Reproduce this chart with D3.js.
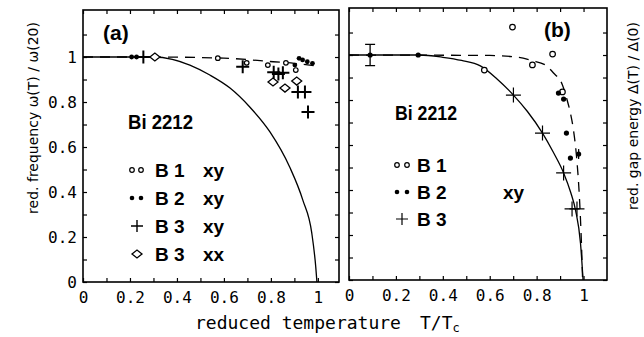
<!DOCTYPE html>
<html>
<head>
<meta charset="utf-8">
<script src="https://cdn.jsdelivr.net/npm/d3@7"></script>
<style>
	body { margin: 0; background: #fff; }
	svg { display: block; }
	.tick text { font-family: "DejaVu Sans Mono", monospace; font-size: 16px; fill: #000; }
	.tick line { stroke: #000; stroke-width: 1.2; }
	.lbl { font-family: "Liberation Sans", Arial, sans-serif; font-weight: bold; fill: #000; }
	.axlbl { font-family: "DejaVu Sans Mono", monospace; fill: #000; }
	.ylbl { font-family: "DejaVu Sans", sans-serif; fill: #000; }
</style>
</head>
<body>
<svg id="chart" width="644" height="337"></svg>
<script>
'use strict';

// ---- data: [T/Tc, value] ----
// panel (a): reduced frequency
var aSolid = [[0, 1], [0.3, 1], [0.38, 0.99], [0.455, 0.964], [0.54, 0.92], [0.626, 0.862], [0.71, 0.778],
	[0.796, 0.667], [0.88, 0.511], [0.936, 0.364], [0.974, 0.218], [0.991, 0.067], [0.996, 0]];
var aDashed = [[0, 1], [0.3, 1], [0.6, 0.995], [0.81, 0.979], [0.9, 0.972], [0.987, 0.961]];
var aB1xy = [[0.574, 0.995], [0.697, 0.974], [0.787, 0.964], [0.864, 0.974], [0.906, 0.942]];
var aB2xy = [[0.207, 1], [0.228, 1], [0.902, 0.964], [0.92, 0.994], [0.935, 0.987], [0.955, 0.979], [0.977, 0.972]];
var aB3xy = [[0.257, 1], [0.68, 0.957], [0.812, 0.932], [0.832, 0.925], [0.851, 0.93], [0.915, 0.845], [0.945, 0.845], [0.958, 0.756]];
var aB3xx = [[0.306, 1], [0.809, 0.889], [0.86, 0.862], [0.91, 0.893]];

// panel (b): reduced gap energy
var bSolid = [[0, 1], [0.3, 1], [0.4, 0.99], [0.48, 0.976], [0.56, 0.952], [0.63, 0.895], [0.701, 0.822], [0.76, 0.75],
	[0.825, 0.653], [0.87, 0.57], [0.915, 0.476], [0.945, 0.39], [0.966, 0.31], [0.987, 0.164], [0.998, 0]];
var bDashed = [[0, 1], [0.6, 0.998], [0.72, 0.99], [0.78, 0.975], [0.838, 0.955], [0.872, 0.92], [0.91, 0.867],
	[0.93, 0.8], [0.944, 0.742], [0.957, 0.667], [0.97, 0.55], [0.983, 0.356], [0.991, 0.164], [0.996, 0]];
var bB1 = [[0.577, 0.933], [0.697, 1.124], [0.782, 0.956], [0.868, 1.004], [0.91, 0.836]];
var bB2 = [[0.09, 1], [0.295, 1], [0.893, 0.831], [0.915, 0.804], [0.927, 0.653], [0.944, 0.542], [0.979, 0.56]];
var bB2err = [[0.09, 1, 0.047], [0.979, 0.56, 0.022]];
var bB3 = [[0.701, 0.822], [0.825, 0.653], [0.915, 0.476], [0.951, 0.316], [0.972, 0.316]];

var xTicks = [0, 0.1, 0.2, 0.3, 0.4, 0.5, 0.6, 0.7, 0.8, 0.9, 1];
var yTicks = [0, 0.1, 0.2, 0.3, 0.4, 0.5, 0.6, 0.7, 0.8, 0.9, 1, 1.1];
var xTickLabels = ['0', '', '0.2', '', '0.4', '', '0.6', '', '0.8', '', '1'];
var yTickLabels = ['0', '', '0.2', '', '0.4', '', '0.6', '', '0.8', '', '1', ''];

var svg = d3.select('#chart');

function tickFormat(labels) {
	return function(d, i) { return labels[i]; };
}

function makePanel(left, right, top, bottom, xMax, yMax, showYLabels) {
	var x = d3.scaleLinear().domain([0, xMax]).range([left, right]);
	var y = d3.scaleLinear().domain([0, yMax]).range([bottom, top]);
	var g = svg.append('g');

	// axes, ticks pointing inward
	g.append('g')
		.attr('transform', 'translate(0,' + bottom + ')')
		.call(d3.axisBottom(x).tickValues(xTicks).tickSize(-4).tickPadding(10).tickFormat(tickFormat(xTickLabels)));
	g.append('g')
		.attr('transform', 'translate(0,' + top + ')')
		.call(d3.axisTop(x).tickValues(xTicks).tickSize(-4).tickFormat(''));
	g.append('g')
		.attr('transform', 'translate(' + left + ',0)')
		.call(d3.axisLeft(y).tickValues(yTicks).tickSize(-4).tickPadding(6)
			.tickFormat(showYLabels ? tickFormat(yTickLabels) : ''));
	g.append('g')
		.attr('transform', 'translate(' + right + ',0)')
		.call(d3.axisRight(y).tickValues(yTicks).tickSize(-4).tickFormat(''));
	g.selectAll('.domain').remove();

	g.append('rect')
		.attr('x', left).attr('y', top)
		.attr('width', right - left).attr('height', bottom - top)
		.attr('fill', 'none').attr('stroke', '#000').attr('stroke-width', 1.6);

	return { g: g, x: x, y: y };
}

function drawCurve(p, data, dashed) {
	var line = d3.line()
		.x(function(d) { return p.x(d[0]); })
		.y(function(d) { return p.y(d[1]); })
		.curve(d3.curveMonotoneX);
	p.g.append('path')
		.datum(data)
		.attr('d', line)
		.attr('fill', 'none')
		.attr('stroke', '#000')
		.attr('stroke-width', 1.3)
		.attr('stroke-dasharray', dashed ? '10 7' : null);
}

function marker(g, type, cx, cy, s) {
	if (type === 'circle') {
		g.append('circle').attr('cx', cx).attr('cy', cy).attr('r', s.r)
			.attr('fill', '#fff').attr('stroke', '#000').attr('stroke-width', 1.2);
	}
	else if (type === 'dot') {
		g.append('circle').attr('cx', cx).attr('cy', cy).attr('r', s.r).attr('fill', '#000');
	}
	else if (type === 'plus') {
		g.append('path')
			.attr('d', 'M' + (cx - s.r) + ',' + cy + 'H' + (cx + s.r) + 'M' + cx + ',' + (cy - s.r) + 'V' + (cy + s.r))
			.attr('stroke', '#000').attr('stroke-width', s.w).attr('fill', 'none');
	}
	else if (type === 'diamond') {
		g.append('path')
			.attr('d', 'M' + (cx - s.r) + ',' + cy + 'L' + cx + ',' + (cy - s.r * 0.8) + 'L' + (cx + s.r) + ',' + cy + 'L' + cx + ',' + (cy + s.r * 0.8) + 'Z')
			.attr('stroke', '#000').attr('stroke-width', 1.3).attr('fill', '#fff');
	}
}

function drawPoints(p, data, type, s) {
	data.forEach(function(d) { marker(p.g, type, p.x(d[0]), p.y(d[1]), s); });
}

// ---- panel (a) ----
var pa = makePanel(83, 339, 10, 282, 1.09, 1.209, true);
drawCurve(pa, aSolid, false);
drawCurve(pa, aDashed, true);
drawPoints(pa, aB3xx, 'diamond', { r: 5 });
drawPoints(pa, aB1xy, 'circle', { r: 2.3 });
drawPoints(pa, aB2xy, 'dot', { r: 2.4 });
drawPoints(pa, aB3xy, 'plus', { r: 6.5, w: 2 });

// ---- panel (b) ----
var pb = makePanel(349, 607, 8, 280, 1.1, 1.209, false);
drawCurve(pb, bSolid, false);
drawCurve(pb, bDashed, true);
bB2err.forEach(function(d, i) {
	var x = pb.x(d[0]), y0 = pb.y(d[1] - d[2]), y1 = pb.y(d[1] + d[2]);
	var path = 'M' + x + ',' + y0 + 'V' + y1;
	if (i === 0) {
		path += 'M' + (x - 5) + ',' + y0 + 'H' + (x + 5) + 'M' + (x - 5) + ',' + y1 + 'H' + (x + 5);
	}
	pb.g.append('path').attr('d', path).attr('stroke', '#000').attr('stroke-width', 1.3).attr('fill', 'none');
});
drawPoints(pb, bB1, 'circle', { r: 2.8 });
drawPoints(pb, bB2, 'dot', { r: 2.6 });
drawPoints(pb, bB3, 'plus', { r: 7.5, w: 1.2 });

// ---- panel labels and legends ----
svg.append('text').attr('class', 'lbl').attr('x', 103).attr('y', 40).attr('font-size', 21).text('(a)');
svg.append('text').attr('class', 'lbl').attr('x', 544).attr('y', 37).attr('font-size', 21).text('(b)');

svg.append('text').attr('class', 'lbl').attr('x', 128).attr('y', 129).attr('font-size', 21)
	.attr('textLength', 65).attr('lengthAdjust', 'spacingAndGlyphs').text('Bi 2212');
svg.append('text').attr('class', 'lbl').attr('x', 395).attr('y', 120).attr('font-size', 21)
	.attr('textLength', 62).attr('lengthAdjust', 'spacingAndGlyphs').text('Bi 2212');

var legendA = [
	{ type: 'circle', name: 'B 1', mode: 'xy', s: { r: 2.3 } },
	{ type: 'dot', name: 'B 2', mode: 'xy', s: { r: 2.3 } },
	{ type: 'plus', name: 'B 3', mode: 'xy', s: { r: 6, w: 1.4 } },
	{ type: 'diamond', name: 'B 3', mode: 'xx', s: { r: 5 } }
];
legendA.forEach(function(item, i) {
	var cy = 170 + i * 28;
	if (item.type === 'circle' || item.type === 'dot') {
		marker(svg, item.type, 132, cy, item.s);
		marker(svg, item.type, 141, cy, item.s);
	}
	else {
		marker(svg, item.type, 137, cy, item.s);
	}
	svg.append('text').attr('class', 'lbl').attr('x', 155).attr('y', cy + 7).attr('font-size', 19).text(item.name);
	svg.append('text').attr('class', 'lbl').attr('x', 203).attr('y', cy + 7).attr('font-size', 19).text(item.mode);
});

var legendB = [
	{ type: 'circle', name: 'B 1', s: { r: 2.3 } },
	{ type: 'dot', name: 'B 2', s: { r: 2.3 } },
	{ type: 'plus', name: 'B 3', s: { r: 6, w: 1.2 } }
];
legendB.forEach(function(item, i) {
	var cy = 165 + i * 27;
	if (item.type === 'plus') {
		marker(svg, item.type, 402, cy, item.s);
	}
	else {
		marker(svg, item.type, 397, cy, item.s);
		marker(svg, item.type, 407, cy, item.s);
	}
	svg.append('text').attr('class', 'lbl').attr('x', 417).attr('y', cy + 7).attr('font-size', 19).text(item.name);
});
svg.append('text').attr('class', 'lbl').attr('x', 503).attr('y', 199).attr('font-size', 19).text('xy');

// ---- axis titles ----
svg.append('text').attr('class', 'ylbl')
	.attr('transform', 'translate(38,118) rotate(-90)')
	.attr('text-anchor', 'middle').attr('font-size', 14)
	.text('red. frequency  \u03c9(T) / \u03c9(20)');
svg.append('text').attr('class', 'ylbl')
	.attr('transform', 'translate(638,116) rotate(-90)')
	.attr('text-anchor', 'middle').attr('font-size', 14)
	.text('red. gap energy  \u0394(T) / \u0394(0)');

svg.append('text').attr('class', 'axlbl').attr('x', 195).attr('y', 329).attr('font-size', 18)
	.text('reduced temperature');
var tt = svg.append('text').attr('class', 'axlbl').attr('x', 420).attr('y', 329).attr('font-size', 18);
tt.append('tspan').text('T/T');
tt.append('tspan').attr('dy', 3).attr('font-size', 12).text('c');
</script>
</body>
</html>
